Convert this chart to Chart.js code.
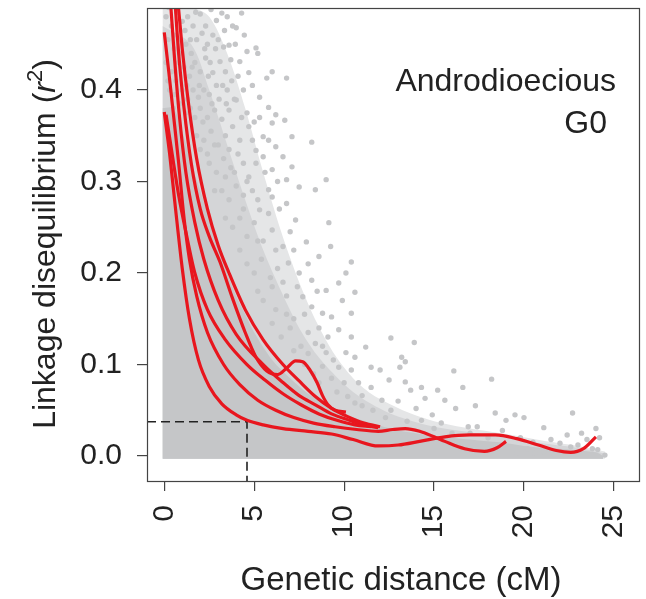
<!DOCTYPE html>
<html>
<head>
<meta charset="utf-8">
<script src="https://cdn.jsdelivr.net/npm/chart.js@4.4.1/dist/chart.umd.min.js"></script>
<style>
html,body{margin:0;padding:0;background:#fff;}
#wrap{width:646px;height:599px;}
</style>
</head>
<body>
<div id="wrap"><canvas id="c" width="646" height="599"></canvas></div>
<script>
// ---------- data ----------
const xTicks = [0, 5, 10, 15, 20, 25];
const yTicks = [0, 0.1, 0.2, 0.3, 0.4];
const xLimits = [-0.96, 26.45];
const yLimits = [-0.0284, 0.4896];

// threshold (dashed guide): r2 = 0.0375 reached at 4.6 cM
const thresholdR2 = 0.0375;
const thresholdCM = 4.6;

// dense part of the point cloud: upper edge (cM, r2)
const coreEdgeX = [-0.1, 0.5, 1.0, 1.5, 2.0, 2.5, 3.0, 3.5, 4.0, 4.5, 5.0, 6.0, 7.0, 8.0, 9.0, 10.0, 11.0, 12.0, 13.0, 14.0, 15.0, 16.0, 17.0, 18.0, 19.0, 20.0, 21.0, 22.0, 23.0, 24.0, 24.4];
const coreEdgeY = [0.38, 0.38, 0.355, 0.32, 0.29, 0.26, 0.23, 0.20, 0.175, 0.155, 0.135, 0.105, 0.085, 0.068, 0.056, 0.046, 0.039, 0.033, 0.028, 0.025, 0.022, 0.020, 0.018, 0.016, 0.014, 0.011, 0.009, 0.008, 0.006, 0.004, 0.0];

// medium-density part of the cloud: upper edge
const midEdgeX = [-0.1, 1.5, 2.5, 3.5, 4.5, 5.5, 6.5, 7.5, 8.5, 9.5, 10.5, 11.5, 12.5, 13.5, 15.0, 17.0, 19.0, 21.0, 23.0, 24.4];
const midEdgeY = [0.47, 0.45, 0.40, 0.34, 0.28, 0.225, 0.18, 0.14, 0.11, 0.088, 0.07, 0.057, 0.047, 0.04, 0.032, 0.026, 0.02, 0.014, 0.009, 0.003];

// sparse part of the cloud: upper edge
const haloEdgeX = [-0.1, 1.5, 2.5, 3.5, 4.5, 5.5, 6.5, 7.5, 8.5, 9.5, 10.5, 11.5, 12.5, 13.5, 15.0, 17.0, 19.0, 21.0, 23.0, 24.5];
const haloEdgeY = [0.49, 0.49, 0.48, 0.44, 0.38, 0.31, 0.245, 0.19, 0.145, 0.11, 0.085, 0.068, 0.057, 0.048, 0.038, 0.03, 0.024, 0.017, 0.011, 0.005];

// individual points outside the dense core (cM, r2)
const cloudPoints = [
[0.1,0.48],[0.4,0.47],[0.7,0.485],[1.0,0.475],[1.3,0.48],[1.6,0.47],[2.0,0.483],[2.3,0.47],[2.6,0.488],[2.9,0.476],[3.2,0.484],[3.5,0.48],[3.8,0.47],[4.3,0.484],
[0.2,0.455],[0.55,0.445],[0.9,0.455],[1.2,0.45],[1.5,0.44],[1.8,0.455],[2.1,0.462],[2.4,0.45],[2.7,0.46],[3.0,0.455],[3.3,0.447],[3.6,0.449],[4.0,0.468],[4.6,0.442],
[0.1,0.43],[0.4,0.42],[0.8,0.43],[1.1,0.425],[1.4,0.415],[1.7,0.43],[2.0,0.42],[2.3,0.435],[2.7,0.419],[3.1,0.431],[3.4,0.42],[3.7,0.433],[4.2,0.431],[4.7,0.419],[5.1,0.446],[5.2,0.44],
[0.3,0.40],[0.6,0.395],[1.0,0.40],[1.3,0.39],[1.6,0.40],[1.9,0.392],[2.2,0.40],[2.5,0.395],[2.9,0.405],[3.5,0.40],[3.9,0.39],[4.4,0.40],[5.3,0.392],[5.7,0.413],[6.0,0.42],[6.8,0.413],
[0.5,0.38],[1.2,0.375],[1.7,0.37],[2.0,0.38],[2.4,0.37],[2.8,0.378],[3.2,0.368],[3.6,0.378],[4.0,0.389],[4.6,0.375],[5.0,0.365],[5.8,0.381],[6.2,0.373],
[1.8,0.35],[2.2,0.345],[2.6,0.355],[3.0,0.34],[3.4,0.35],[3.8,0.36],[4.2,0.345],[4.7,0.36],[5.5,0.349],[6.0,0.364],[6.7,0.367],[7.1,0.349],[8.2,0.343],
[2.5,0.32],[2.9,0.31],[3.3,0.325],[3.7,0.315],[4.1,0.33],[4.7,0.305],[5.1,0.334],[5.1,0.32],[5.5,0.327],[6.0,0.313],[6.2,0.338],[6.6,0.327],[7.1,0.316],
[3.2,0.29],[3.6,0.28],[4.0,0.295],[4.4,0.285],[4.9,0.29],[5.3,0.269],[5.8,0.291],[6.0,0.283],[6.8,0.302],[6.8,0.276],[7.5,0.294],[8.4,0.291],[9.0,0.302],
[3.8,0.25],[4.2,0.26],[4.6,0.24],[5.0,0.255],[5.5,0.235],[6.0,0.247],[6.6,0.229],[7.3,0.258],[7.9,0.234],[8.6,0.218],[9.15,0.255],[9.25,0.229],[10.4,0.212],
[4.6,0.21],[5.0,0.20],[5.4,0.215],[5.9,0.195],[6.3,0.205],[6.9,0.211],[7.5,0.20],[8.2,0.192],[9.0,0.181],[9.7,0.189],[10.1,0.20],[10.6,0.179],
[5.5,0.17],[6.2,0.16],[6.8,0.175],[7.2,0.15],[7.7,0.174],[8.2,0.163],[8.8,0.156],[9.3,0.152],[9.9,0.17],[10.4,0.156],
[6.5,0.13],[7.0,0.14],[7.6,0.12],[8.0,0.135],[8.4,0.123],[9.0,0.113],[9.1,0.13],[9.7,0.138],[10.1,0.113],[10.4,0.13],[10.6,0.108],[11.2,0.119],
[7.8,0.10],[8.3,0.09],[8.8,0.098],[9.3,0.085],[9.7,0.097],[10.0,0.08],[10.4,0.094],[10.8,0.08],[11.0,0.066],[11.5,0.097],[11.5,0.075],
[12.0,0.094],[12.5,0.083],[12.6,0.129],[13.1,0.097],[13.2,0.108],[13.4,0.103],[13.4,0.081],[13.9,0.124],[13.7,0.072],[14.3,0.075],[15.2,0.072],[16.1,0.093],
[14.5,0.063],[15.6,0.061],[16.2,0.052],[16.6,0.075],[17.3,0.055],[18.2,0.084],[18.4,0.047],[19.5,0.045],[20.0,0.042],[19.0,0.039],[22.7,0.047],[21.1,0.031],
[22.4,0.023],[24.2,0.02],[24.5,0.001],[24.1,0.007],[22.6,0.01],[21.1,0.005],[20.6,0.003],[19.6,0.003],[14.9,0.045],[14.3,0.039],[12.6,0.05],[12.1,0.061],
[15.4,0.036],[16.9,0.032],[17.4,0.032],[11.0,0.055],[11.6,0.05],[12.3,0.042],[13.0,0.06],[13.5,0.038],[14.0,0.052],[15.0,0.03],[16.0,0.025],[17.0,0.025],
[18.0,0.02],[18.8,0.028],[19.8,0.02],[20.5,0.015],[21.5,0.018],[22.0,0.014],[23.0,0.012],[23.5,0.018],[23.8,0.008],[22.8,0.003],[21.7,0.002],[20.2,0.008],[23.2,0.025],[24.0,0.03],
[0.25,0.49],[0.55,0.46],[0.85,0.44],[1.15,0.465],[1.45,0.455],[1.75,0.485],[2.25,0.445],[2.55,0.43],[2.85,0.445],[3.35,0.465],[3.95,0.45],[4.45,0.46],
[0.2,0.41],[0.65,0.41],[1.25,0.405],[1.55,0.425],[1.95,0.405],[2.45,0.415],[3.25,0.405],[3.75,0.41],[4.1,0.415],[4.9,0.405],
[0.85,0.385],[1.45,0.38],[2.15,0.365],[2.65,0.385],[3.05,0.39],[3.45,0.385],[4.3,0.37],[5.3,0.37],
[2.0,0.335],[2.4,0.33],[2.8,0.34],[3.6,0.335],[4.4,0.32],[4.9,0.345],[5.8,0.345],
[2.8,0.29],[3.4,0.305],[3.9,0.31],[4.6,0.30],[5.6,0.31],[6.3,0.30],
[3.4,0.26],[4.4,0.27],[5.2,0.28],[5.8,0.265],[6.4,0.27],[7.0,0.245],
[4.2,0.225],[5.2,0.235],[6.2,0.225],[7.2,0.225],[8.0,0.21],
[5.2,0.18],[6.0,0.185],[6.6,0.19],[7.4,0.185],[8.5,0.18],
[6.0,0.145],[6.8,0.155],[7.8,0.155],[8.6,0.14],
[7.2,0.115],[8.0,0.112],[8.8,0.12],[9.4,0.105],
[8.6,0.08],[9.6,0.07],[10.2,0.065],[10.6,0.058]
];

// fitted decay curves (cM, r2)
const curveA = [[0.0,0.376],[0.3,0.33],[0.6,0.275],[1.0,0.205],[1.4,0.15],[1.9,0.105],[2.5,0.076],[3.2,0.057],[4.0,0.045],[4.6,0.039],[5.5,0.034],[6.6,0.030],[8.0,0.027],[9.3,0.024],[10.5,0.018],[11.9,0.011],[13.0,0.012],[14.2,0.016],[15.6,0.021],[17.0,0.023],[18.4,0.023],[19.6,0.019],[20.8,0.012],[21.8,0.006],[22.6,0.004],[23.3,0.008],[24.0,0.021]];
const curveB = [[0.0,0.463],[0.25,0.42],[0.5,0.375],[0.8,0.32],[1.1,0.26],[1.4,0.215],[1.8,0.175],[2.4,0.135],[3.3,0.10],[4.2,0.078],[5.2,0.061],[6.2,0.05],[7.2,0.042],[8.3,0.036],[9.5,0.032],[10.7,0.029],[11.9,0.027],[12.7,0.029],[13.4,0.030],[14.2,0.027],[15.0,0.021],[15.6,0.016],[16.7,0.008],[17.8,0.005],[18.5,0.009],[19.0,0.016]];
const curveC = [[0.1,0.373],[0.4,0.335],[0.8,0.285],[1.2,0.245],[1.7,0.20],[2.4,0.16],[3.4,0.127],[4.6,0.10],[5.6,0.083],[6.6,0.068],[7.6,0.056],[8.6,0.046],[9.6,0.039],[10.6,0.034],[11.5,0.032]];
const curveD = [[0.3,0.51],[0.55,0.44],[0.85,0.37],[1.2,0.31],[1.7,0.255],[2.2,0.215],[3.0,0.17],[4.0,0.133],[5.5,0.10],[6.5,0.082],[7.5,0.066],[8.4,0.056],[9.3,0.046],[10.3,0.039],[11.1,0.034],[11.9,0.031]];
const curveE = [[0.55,0.51],[0.8,0.44],[1.1,0.38],[1.5,0.32],[2.0,0.27],[2.5,0.24],[3.1,0.212],[3.8,0.172],[4.5,0.135],[5.1,0.108],[5.7,0.093],[6.3,0.089],[6.8,0.096],[7.3,0.104],[7.7,0.103],[8.1,0.094],[8.5,0.08],[8.8,0.066],[9.1,0.056],[9.5,0.05],[10.1,0.048]];
const curveF = [[0.7,0.51],[1.0,0.445],[1.35,0.385],[1.8,0.325],[2.4,0.27],[3.0,0.23],[3.6,0.20],[4.5,0.16],[5.5,0.127],[6.6,0.10],[7.5,0.082],[8.4,0.065],[9.3,0.052],[10.2,0.043],[11.1,0.036],[12.0,0.032]];

const annotationLines = ["Androdioecious", "G0"];

// ---------- chart ----------
const GRAY = '#c5c6c8';
const RED = '#e8161e';
const FONT = "'Liberation Sans', Arial, sans-serif";
const toXY = arr => arr.map(p => ({x: p[0], y: p[1]}));
const zipXY = (xs, ys) => xs.map((x, i) => ({x: x, y: ys[i]}));

const curves = [curveA, curveB, curveC, curveD, curveE, curveF];

const datasets = [];
curves.forEach((c, i) => {
  datasets.push({
    type: 'line', label: 'curve' + i, data: toXY(c),
    borderColor: RED, borderWidth: 3.2, pointRadius: 0, fill: false,
    cubicInterpolationMode: 'monotone', order: 0
  });
});
datasets.push({
  type: 'line', label: 'threshold',
  data: [{x: xLimits[0], y: thresholdR2}, {x: thresholdCM, y: thresholdR2}, {x: thresholdCM, y: yLimits[0]}],
  borderColor: '#222', borderWidth: 1.6, borderDash: [9, 5], pointRadius: 0, fill: false, tension: 0, order: 1
});
datasets.push({
  type: 'scatter', label: 'points', data: toXY(cloudPoints),
  backgroundColor: GRAY, borderWidth: 0, pointRadius: 2.7, order: 2
});
datasets.push({
  type: 'line', label: 'core', data: zipXY(coreEdgeX, coreEdgeY),
  borderWidth: 0, borderColor: 'rgba(0,0,0,0)', backgroundColor: GRAY, pointRadius: 0,
  fill: {value: -0.003}, tension: 0.3, order: 3
});
datasets.push({
  type: 'line', label: 'mid', data: zipXY(midEdgeX, midEdgeY),
  borderWidth: 0, borderColor: 'rgba(0,0,0,0)', backgroundColor: '#d4d5d7', pointRadius: 0,
  fill: {value: -0.003}, tension: 0.3, order: 4
});
datasets.push({
  type: 'line', label: 'halo', data: zipXY(haloEdgeX, haloEdgeY),
  borderWidth: 0, borderColor: 'rgba(0,0,0,0)', backgroundColor: '#e5e6e7', pointRadius: 0,
  fill: {value: -0.003}, tension: 0.3, order: 5
});

const textPlugin = {
  id: 'texts',
  afterDraw(chart) {
    const ctx = chart.ctx;
    const a = chart.chartArea;
    ctx.save();
    // box
    ctx.strokeStyle = '#444';
    ctx.lineWidth = 1.2;
    ctx.strokeRect(a.left + 0.5, a.top + 0.5, a.right - a.left - 1, a.bottom - a.top - 1);
    ctx.fillStyle = '#222';
    // annotation
    ctx.font = '32px ' + FONT;
    ctx.textAlign = 'right';
    ctx.textBaseline = 'alphabetic';
    ctx.fillText(annotationLines[0], 616, 91);
    ctx.fillText(annotationLines[1], 607, 133);
    // x title
    ctx.font = '33px ' + FONT;
    ctx.textAlign = 'center';
    ctx.fillText('Genetic distance (cM)', 401, 590);
    // y title with italic r and superscript 2
    ctx.translate(55, 244);
    ctx.rotate(-Math.PI / 2);
    const parts = [
      {t: 'Linkage disequilibrium (', f: '32px ' + FONT, dy: 0},
      {t: 'r', f: 'italic 32px ' + FONT, dy: 0},
      {t: '2', f: '22px ' + FONT, dy: -13},
      {t: ')', f: '32px ' + FONT, dy: 0}
    ];
    let total = 0;
    parts.forEach(p => { ctx.font = p.f; p.w = ctx.measureText(p.t).width; total += p.w; });
    let x = -total / 2;
    ctx.textAlign = 'left';
    parts.forEach(p => { ctx.font = p.f; ctx.fillText(p.t, x, p.dy); x += p.w; });
    ctx.restore();
  }
};

function zeroPad(s) { s.paddingTop = 0; s.paddingBottom = 0; s.paddingLeft = 0; s.paddingRight = 0; }

new Chart(document.getElementById('c'), {
  type: 'scatter',
  data: {datasets: datasets},
  plugins: [textPlugin],
  options: {
    responsive: false,
    animation: false,
    layout: {padding: {top: 8, right: 6, left: 0, bottom: 0}},
    plugins: {legend: {display: false}, tooltip: {enabled: false}},
    scales: {
      x: {
        type: 'linear', min: xLimits[0], max: xLimits[1],
        afterFit(s) { s.height = 117; zeroPad(s); },
        afterBuildTicks(s) { s.ticks = xTicks.map(v => ({value: v})); },
        ticks: {minRotation: 90, maxRotation: 90, autoSkip: false, padding: 14, color: '#222',
                font: {family: FONT, size: 30}, callback: v => String(v)},
        grid: {drawOnChartArea: false, drawTicks: true, tickLength: 9, color: '#444', lineWidth: 1.2},
        border: {display: false}
      },
      y: {
        type: 'linear', min: yLimits[0], max: yLimits[1],
        afterFit(s) { s.width = 147; zeroPad(s); },
        afterBuildTicks(s) { s.ticks = yTicks.map(v => ({value: v})); },
        ticks: {autoSkip: false, padding: 15, color: '#222',
                font: {family: FONT, size: 30}, callback: v => Number(v).toFixed(1)},
        grid: {drawOnChartArea: false, drawTicks: true, tickLength: 10, color: '#444', lineWidth: 1.2},
        border: {display: false}
      }
    }
  }
});
</script>
</body>
</html>
